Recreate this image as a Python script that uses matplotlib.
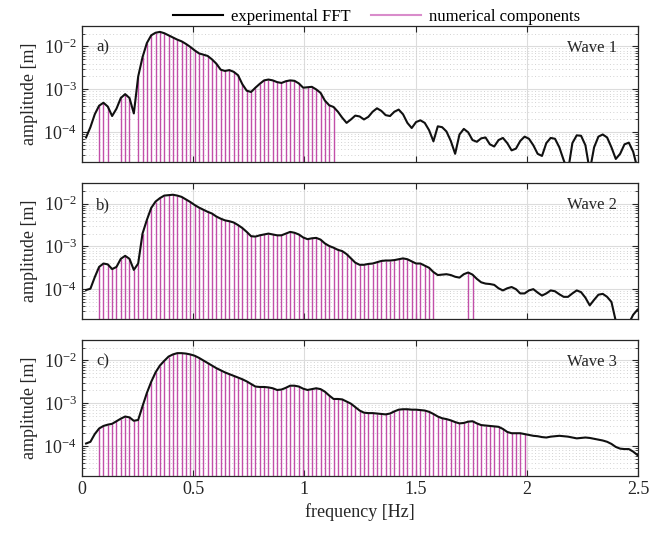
import numpy as np
import matplotlib
matplotlib.use("Agg")
import matplotlib.pyplot as plt
from matplotlib.lines import Line2D
from matplotlib.ticker import LogLocator, LogFormatterMathtext, NullFormatter, FixedLocator

plt.rcParams['font.family'] = ['Liberation Serif', 'DejaVu Serif']
plt.rcParams['mathtext.fontset'] = 'stix'

# ---------------- data ----------------
freq_step = 0.0195                       # Hz, spectral resolution
freq = freq_step * np.arange(1, 129)     # 0.0195 ... 2.496 Hz

# log10 of the experimental FFT amplitude [m] at each frequency
wave1_log10 = [
    -4.12, -3.88, -3.58, -3.38, -3.31, -3.40, -3.62, -3.45, -3.20, -3.11,
    -3.20, -3.56, -2.70, -2.25, -1.92, -1.74, -1.68, -1.66, -1.69, -1.74,
    -1.79, -1.84, -1.88, -1.94, -2.01, -2.09, -2.16, -2.19, -2.22, -2.30,
    -2.40, -2.54, -2.57, -2.55, -2.59, -2.67, -2.88, -3.03, -3.06, -2.96,
    -2.87, -2.79, -2.77, -2.79, -2.83, -2.85, -2.81, -2.79, -2.80, -2.86,
    -2.96, -2.95, -2.94, -3.00, -3.08, -3.26, -3.37, -3.41, -3.52, -3.66,
    -3.78, -3.70, -3.61, -3.63, -3.70, -3.64, -3.52, -3.44, -3.50, -3.60,
    -3.62, -3.52, -3.47, -3.58, -3.78, -3.90, -3.76, -3.72, -3.78, -3.95,
    -4.21, -3.86, -3.88, -3.98, -4.20, -4.50, -4.05, -3.92, -4.00, -4.18,
    -4.22, -4.14, -4.12, -4.28, -4.33, -4.18, -4.13, -4.25, -4.42, -4.38,
    -4.20, -4.10, -4.15, -4.30, -4.50, -4.55, -4.25, -4.13, -4.15, -4.35,
    -4.65, -4.90, -4.25, -4.07, -4.08, -4.30, -4.90, -4.35, -4.10, -4.05,
    -4.12, -4.35, -4.62, -4.50, -4.28, -4.24, -4.45, -4.85,
]
wave2_log10 = [
    -4.02, -3.99, -3.72, -3.48, -3.40, -3.42, -3.53, -3.48, -3.29, -3.22,
    -3.29, -3.55, -3.40, -2.70, -2.38, -2.10, -1.95, -1.87, -1.81, -1.80,
    -1.79, -1.81, -1.84, -1.90, -1.96, -2.03, -2.09, -2.14, -2.19, -2.23,
    -2.30, -2.35, -2.39, -2.41, -2.44, -2.50, -2.57, -2.66, -2.76, -2.77,
    -2.74, -2.72, -2.70, -2.72, -2.74, -2.74, -2.70, -2.66, -2.68, -2.72,
    -2.79, -2.83, -2.81, -2.80, -2.84, -2.93, -2.99, -3.03, -3.08, -3.11,
    -3.18, -3.28, -3.38, -3.43, -3.43, -3.41, -3.40, -3.37, -3.34, -3.33,
    -3.33, -3.32, -3.30, -3.28, -3.30, -3.35, -3.40, -3.40, -3.45, -3.50,
    -3.60, -3.67, -3.66, -3.65, -3.67, -3.71, -3.73, -3.65, -3.61, -3.66,
    -3.76, -3.84, -3.87, -3.88, -3.90, -3.98, -4.03, -3.98, -3.95, -4.00,
    -4.10, -4.10, -4.03, -4.00, -4.08, -4.15, -4.10, -4.03, -4.05, -4.12,
    -4.18, -4.18, -4.10, -4.03, -4.07, -4.20, -4.38, -4.25, -4.13, -4.11,
    -4.18, -4.30, -4.75, -5.00, -5.00, -4.80, -4.60, -4.48,
]
wave3_log10 = [
    -3.94, -3.90, -3.72, -3.59, -3.53, -3.50, -3.48, -3.42, -3.36, -3.31,
    -3.33, -3.41, -3.39, -3.07, -2.76, -2.50, -2.28, -2.12, -2.01, -1.91,
    -1.86, -1.83, -1.83, -1.84, -1.86, -1.89, -1.94, -2.00, -2.06, -2.12,
    -2.18, -2.23, -2.28, -2.32, -2.36, -2.40, -2.44, -2.49, -2.55, -2.61,
    -2.62, -2.62, -2.63, -2.65, -2.69, -2.68, -2.64, -2.59, -2.59, -2.61,
    -2.66, -2.69, -2.67, -2.65, -2.67, -2.73, -2.82, -2.90, -2.90, -2.91,
    -2.96, -3.01, -3.09, -3.17, -3.22, -3.23, -3.23, -3.24, -3.25, -3.26,
    -3.24, -3.19, -3.15, -3.14, -3.14, -3.15, -3.15, -3.16, -3.17, -3.20,
    -3.25, -3.31, -3.35, -3.37, -3.40, -3.44, -3.47, -3.46, -3.43, -3.42,
    -3.47, -3.51, -3.52, -3.53, -3.54, -3.55, -3.60, -3.67, -3.70, -3.70,
    -3.70, -3.72, -3.74, -3.76, -3.77, -3.79, -3.80, -3.78, -3.77, -3.76,
    -3.77, -3.78, -3.80, -3.82, -3.81, -3.80, -3.81, -3.83, -3.85, -3.87,
    -3.90, -3.95, -4.02, -4.06, -4.07, -4.07, -4.13, -4.21,
]

# indices (k, frequency = k * freq_step) of the numerical components
wave1_components = list(range(4, 7)) + list(range(9, 12)) + list(range(13, 59))
wave2_components = list(range(4, 82)) + [89, 90]
wave3_components = list(range(4, 103))

panel_tags = ["a)", "b)", "c)"]
wave_names = ["Wave 1", "Wave 2", "Wave 3"]
x_ticks = [0, 0.5, 1, 1.5, 2, 2.5]
x_tick_labels = ["0", "0.5", "1", "1.5", "2", "2.5"]
y_limits = (2e-5, 3e-2)

# ---------------- plotting ----------------
fig = plt.figure(figsize=(6.65, 5.34), dpi=100)
panel_boxes = [
    (0.1229, 0.696, 0.8371, 0.2553),
    (0.1229, 0.4026, 0.8371, 0.2541),
    (0.1229, 0.1086, 0.8371, 0.2547),
]
stem_color = '#c24fa9'
edge_color = '#262626'

series = [wave1_log10, wave2_log10, wave3_log10]
components = [wave1_components, wave2_components, wave3_components]

for i in range(3):
    ax = fig.add_axes(panel_boxes[i])
    amp = 10.0 ** np.asarray(series[i])
    comp_idx = np.asarray(components[i]) - 1
    ax.vlines(freq[comp_idx], y_limits[0], amp[comp_idx], color=stem_color,
              linewidth=1.0, zorder=2)
    ax.plot(freq, amp, color='#111111', linewidth=1.5, zorder=3)

    ax.set_yscale('log')
    ax.set_xlim(0, 2.5)
    ax.set_ylim(*y_limits)
    ax.yaxis.set_major_locator(FixedLocator([1e-4, 1e-3, 1e-2]))
    ax.yaxis.set_major_formatter(LogFormatterMathtext())
    ax.yaxis.set_minor_locator(LogLocator(base=10, subs=np.arange(2, 10), numticks=20))
    ax.yaxis.set_minor_formatter(NullFormatter())
    ax.set_xticks(x_ticks)
    if i == 2:
        ax.set_xticklabels(x_tick_labels)
        ax.set_xlabel('frequency [Hz]', fontsize=13, color='#262626')
    else:
        ax.set_xticklabels([])
    ax.set_ylabel('amplitude [m]', fontsize=13, color='#262626', labelpad=4)

    ax.grid(True, which='major', color='#dcdcdc', linewidth=0.8, linestyle='-', zorder=0)
    ax.grid(True, which='minor', axis='y', color='#d2d2d2', linewidth=0.7,
            linestyle=(0, (1, 2.5)), zorder=0)
    ax.set_axisbelow(True)

    ax.tick_params(which='both', direction='in', top=True, right=True,
                   colors=edge_color, labelsize=13, labelcolor='#262626')
    ax.tick_params(which='major', length=4, width=0.8)
    ax.tick_params(which='minor', length=2.2, width=0.6)
    for sp in ax.spines.values():
        sp.set_color(edge_color)
        sp.set_linewidth(0.9)

    ax.text(0.026, 0.84, panel_tags[i], transform=ax.transAxes, fontsize=12,
            ha='left', va='center', color='#262626', zorder=5)
    ax.text(0.961, 0.84, wave_names[i], transform=ax.transAxes, fontsize=12,
            ha='right', va='center', color='#262626', zorder=5)

handles = [Line2D([], [], color='black', linewidth=1.5),
           Line2D([], [], color='#d98ccb', linewidth=1.5)]
fig.legend(handles, ['experimental FFT', 'numerical components'], loc='upper center',
           bbox_to_anchor=(0.566, 1.012), ncol=2, frameon=False, fontsize=12,
           handlelength=3.0, columnspacing=1.2, handletextpad=0.5)

fig.savefig('out.png', dpi=100)
